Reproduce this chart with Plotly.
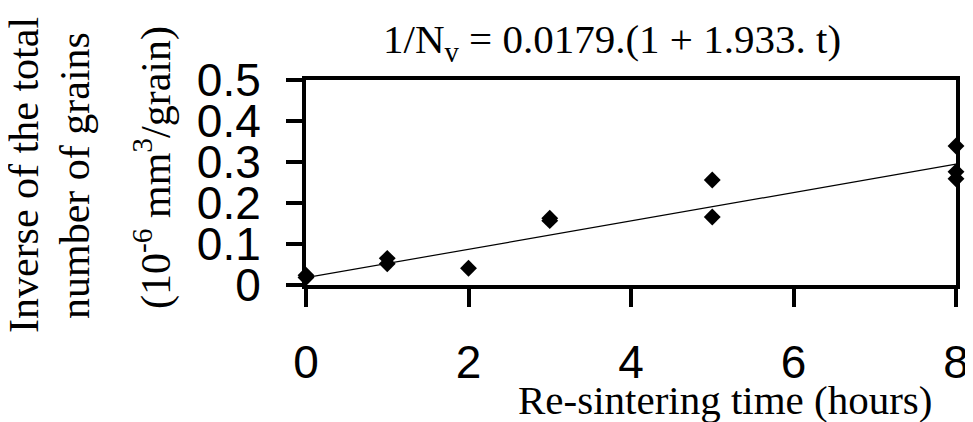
import plotly.graph_objects as go

# Data
t_hours = [0, 0, 1, 1, 2, 3, 3, 5, 5, 8, 8, 8]
inv_nv = [0.018, 0.024, 0.065, 0.052, 0.041, 0.157, 0.163, 0.256, 0.166, 0.339, 0.276, 0.259]
fit_t = [0, 8]
fit_y = [0.0179, 0.2947]
x_ticks = [0, 2, 4, 6, 8]
y_ticks = [0, 0.1, 0.2, 0.3, 0.4, 0.5]
y_tick_labels = ["0", "0.1", "0.2", "0.3", "0.4", "0.5"]

# The page body has an 8px margin, so the figure is drawn from (8, 8).
OFF = 8
W, H = 973 - OFF, 422 - OFF
ML, MT = 306 - OFF, 80 - OFF
MR = W - (956 - OFF)
MB = H - (285 - OFF)
PW, PH = W - ML - MR, H - MT - MB


def px(x):
    return (x - OFF - ML) / PW


def py(y):
    return (H - MB - (y - OFF)) / PH


serif = "Times New Roman, Liberation Serif, serif"
sans = "Arial, Liberation Sans, sans-serif"

fig = go.Figure()
fig.add_trace(go.Scatter(x=fit_t, y=fit_y, mode="lines",
                         line=dict(color="black", width=1.2),
                         showlegend=False, cliponaxis=False))
fig.add_trace(go.Scatter(x=t_hours, y=inv_nv, mode="markers",
                         marker=dict(symbol="diamond", size=13, color="black"),
                         showlegend=False, cliponaxis=False))

axis_common = dict(showgrid=False, zeroline=False, showline=True, linecolor="black",
                   linewidth=4, mirror=True, ticks="outside", tickcolor="black",
                   tickwidth=4, layer="below traces", automargin=False,
                   tickfont=dict(family=sans, size=46, color="black"))

fig.update_xaxes(range=[0, 8], tickvals=x_ticks, ticktext=[str(v) for v in x_ticks],
                 ticklen=18, ticklabelstandoff=16, **axis_common)
fig.update_yaxes(range=[0, 0.5], tickvals=y_ticks, ticktext=y_tick_labels,
                 ticklen=16, ticklabelstandoff=16, **axis_common)

annots = [
    dict(text="1/N<sub>v</sub> = 0.0179.(1 + 1.933. t)", x=px(612), y=py(42), size=41, angle=0),
    dict(text="Re-sintering time (hours)", x=px(725), y=py(400), size=41, angle=0),
    dict(text="Inverse of the total", x=px(24), y=py(175), size=42, angle=-90),
    dict(text="number of grains", x=px(75), y=py(175), size=42, angle=-90),
    dict(text="(10<sup>-6</sup> mm<sup>3</sup>/grain)", x=px(153), y=py(168), size=42, angle=-90),
]
for a in annots:
    fig.add_annotation(text=a["text"], x=a["x"], y=a["y"], xref="paper", yref="paper",
                       xanchor="center", yanchor="middle", showarrow=False,
                       textangle=a["angle"],
                       font=dict(family=serif, size=a["size"], color="black"))

fig.update_layout(width=W, height=H, margin=dict(l=ML, r=MR, t=MT, b=MB),
                  paper_bgcolor="white", plot_bgcolor="white")

fig.write_html("out.html")
